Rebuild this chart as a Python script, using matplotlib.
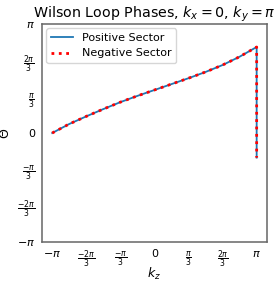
import numpy as np
import matplotlib
matplotlib.use("Agg")
import matplotlib.pyplot as plt

pi = np.pi
kz = [-pi, -5*pi/6, -2*pi/3, -pi/2, -pi/3, -pi/6, 0, pi/6, pi/3, pi/2, 2*pi/3, 5*pi/6, pi, pi]
theta_pos = [0.0, 0.26, 0.48, 0.69, 0.89, 1.07, 1.24, 1.41, 1.58, 1.76, 1.96, 2.20, 2.48, -0.71]
theta_neg = list(theta_pos)

tick_vals = [-pi, -2*pi/3, -pi/3, 0, pi/3, 2*pi/3, pi]
tick_labels = [r'$-\pi$', r'$\frac{-2\pi}{3}$', r'$\frac{-\pi}{3}$', '0',
               r'$\frac{\pi}{3}$', r'$\frac{2\pi}{3}$', r'$\pi$']

fig = plt.figure(figsize=(2.78, 2.83), dpi=100)
ax = fig.add_axes([0.151, 0.145, 0.809, 0.770])

ax.plot(kz, theta_pos, color='#1f77b4', lw=1.3, label='Positive Sector')
ax.plot(kz, theta_neg, color='red', ls=':', lw=2.0, label='Negative Sector')

ax.set_ylim(-pi, pi)
ax.set_xticks(tick_vals)
ax.set_xticklabels(tick_labels)
ax.set_yticks(tick_vals)
ax.set_yticklabels(tick_labels)
ax.tick_params(length=0, labelsize=8, pad=5)
for s in ax.spines.values():
    s.set_color('#666666')
    s.set_linewidth(1.1)

ax.set_title(r'Wilson Loop Phases, $k_x=0$, $k_y=\pi$', fontsize=10.3, pad=3)
ax.set_xlabel(r'$k_z$', fontsize=9)
ax.set_ylabel(r'$\Theta$', fontsize=9)
ax.xaxis.set_label_coords(0.5, -0.112)
ax.yaxis.set_label_coords(-0.135, 0.5)
ax.legend(loc='upper left', fontsize=8, handlelength=2, borderaxespad=0.4)

fig.savefig('out.png', dpi=100)
